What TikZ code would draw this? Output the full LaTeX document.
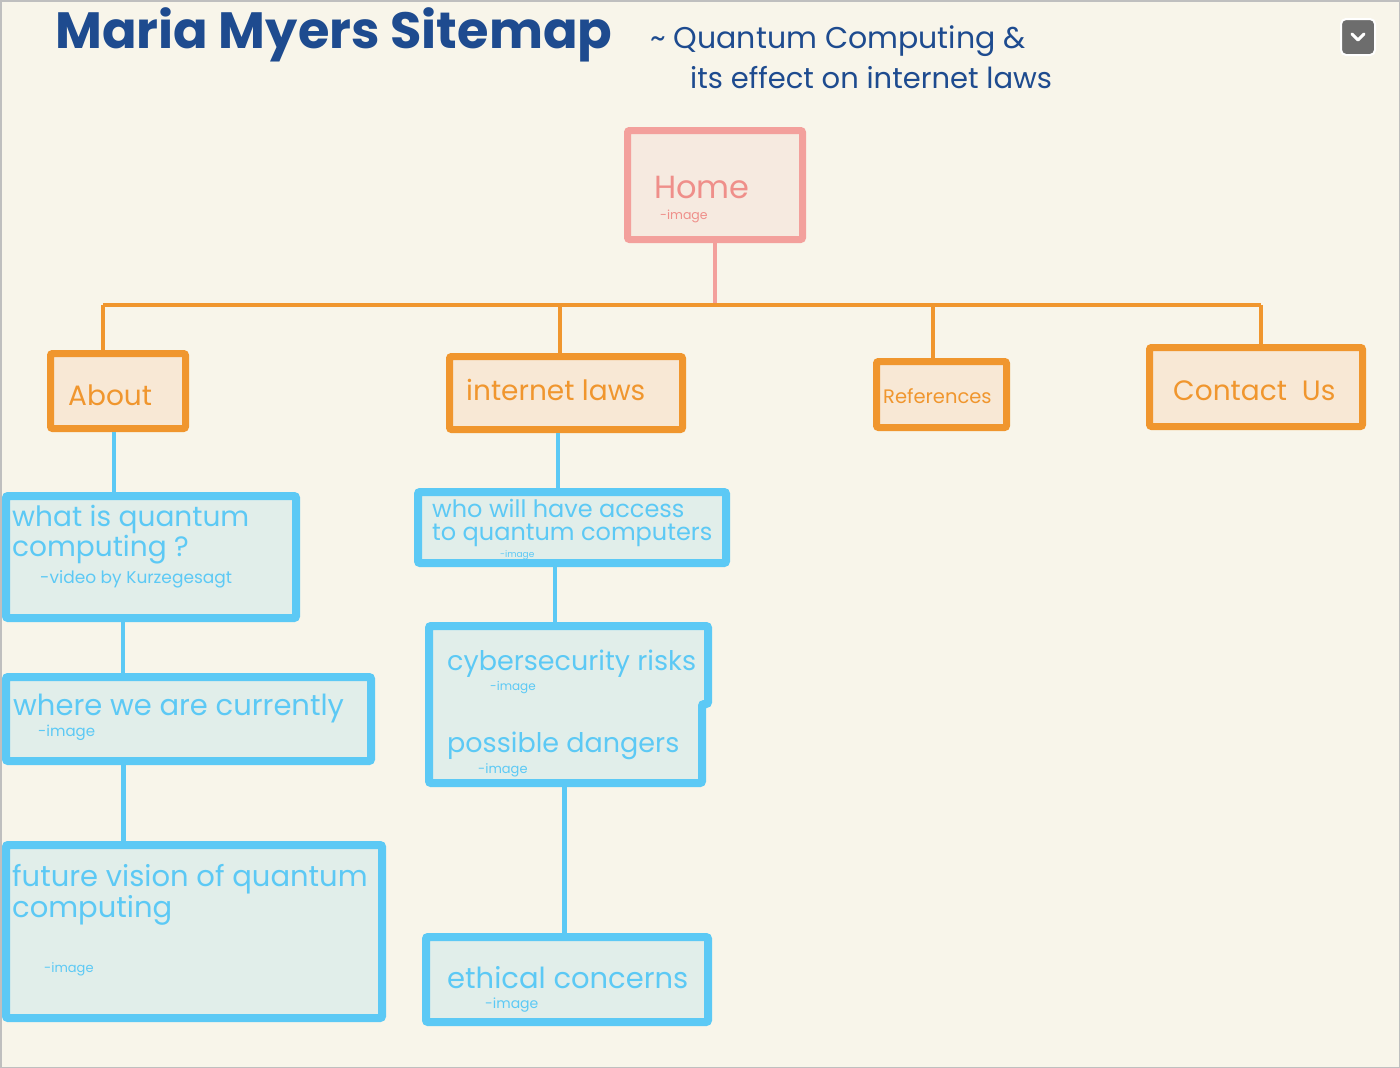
\documentclass[tikz,border=0pt]{standalone}
\usepackage{fontspec}
\setmainfont{Poppins}
\usepackage{tikz}
\tikzset{>=latex}
\definecolor{paper}{HTML}{F8F5EA}
\definecolor{inkblue}{HTML}{1E4B8F}
\definecolor{homepink}{HTML}{F3A09C}
\definecolor{homefill}{HTML}{F6EAE0}
\definecolor{hometext}{HTML}{EF8F8A}
\definecolor{mainorange}{HTML}{F0962E}
\definecolor{orangefill}{HTML}{F8E8D5}
\definecolor{skyblue}{HTML}{5CC9F5}
\definecolor{skyfill}{HTML}{E1EEEA}
\definecolor{btngray}{HTML}{6D6D6D}

\tikzset{
  homebox/.style={draw=homepink, fill=homefill, line width=7pt, rounded corners=2pt, inner sep=0pt},
  sectbox/.style={draw=mainorange, fill=orangefill, line width=7pt, rounded corners=2pt, inner sep=0pt},
  pagebox/.style={draw=skyblue, fill=skyfill, line width=8pt, rounded corners=2pt, inner sep=0pt},
  pline/.style={homepink, line width=4pt},
  oline/.style={mainorange, line width=4pt},
  bline/.style={skyblue, line width=4.5pt},
  txt/.style={anchor=base west, inner sep=0pt, align=left},
  bigtxt/.style={txt, text=skyblue, font=\fontsize{27}{25}\selectfont},
  notetxt/.style={txt, text=skyblue, font=\fontsize{13}{14}\selectfont},
  secttxt/.style={txt, text=mainorange, font=\fontsize{28}{30}\selectfont}
}

\begin{document}
\begin{tikzpicture}[x=1pt, y=-1pt]
\fill[paper] (0,0) rectangle (1400,1068);
\draw[black!25, line width=1.5pt] (0.75,0.75) rectangle (1399.25,1067.25);
\useasboundingbox (0,0) rectangle (1400,1068);

% heading
\node[txt, text=inkblue, font=\fontsize{51}{52}\selectfont\bfseries] (title) at (55,48) {Maria Myers Sitemap};
\node[txt, text=inkblue, font=\fontsize{30}{34}\selectfont] (subtitle) at (650,48) {\~{} Quantum Computing \&};
\node[txt, text=inkblue, font=\fontsize{29}{34}\selectfont] (subtitle2) at (690,88) {its effect on internet laws};

% menu button
\node[draw=white, line width=2pt, fill=btngray, rounded corners=5pt, minimum width=34pt, minimum height=36pt] (menu) at (1358,37) {};
\draw[white, line width=3pt, line cap=round, line join=round] ([shift={(-6,-3)}]menu.center) -- ([shift={(0,3)}]menu.center) -- ([shift={(6,-3)}]menu.center);

% top level
\node[homebox, minimum width=175pt, minimum height=109pt] (home) at (715,185) {};
\node[txt, text=hometext, font=\fontsize{32}{35}\selectfont] (hometxt) at (654,198) {Home};
\node[txt, text=hometext, font=\fontsize{12.5}{13}\selectfont] (homenote) at (660,219) {-image};

\node[sectbox, minimum width=135pt, minimum height=75pt] (about) at (118,391) {};
\node[sectbox, minimum width=233pt, minimum height=73pt] (laws) at (566,393) {};
\node[sectbox, minimum width=130pt, minimum height=66pt] (refs) at (941.5,394.5) {};
\node[sectbox, minimum width=213pt, minimum height=79pt] (contact) at (1256,387) {};
\node[secttxt] (abouttxt) at (68,405) {About};
\node[secttxt] (lawstxt) at (466,400) {internet laws};
\node[secttxt, font=\fontsize{19.5}{21}\selectfont] (refstxt) at (883,403) {References};
\node[secttxt] (contacttxt) at (1173,400) {Contact\ \ Us};

\coordinate (busl) at (103,305);
\coordinate (busr) at (1261,305);
\draw[pline] (home.south) -- (home.south |- busl);
\draw[oline] (busl) -- (busr);
\draw[oline] (busl) -- (busl |- about.north);
\draw[oline] (laws.north -| 560,0) -- (busl -| 560,0);
\draw[oline] (refs.north -| 933,0) -- (busl -| 933,0);
\draw[oline] (busr) -- (busr |- contact.north);

% about column
\node[pagebox, minimum width=290pt, minimum height=122pt] (what) at (151,557) {};
\node[pagebox, minimum width=365pt, minimum height=84pt] (where) at (188.5,719) {};
\node[pagebox, minimum width=376pt, minimum height=173pt] (future) at (194,931.5) {};
\node[bigtxt, font=\fontsize{28}{25}\selectfont] (whattxt) at (12,556) {what is quantum\\computing ?};
\node[notetxt, font=\fontsize{17}{18}\selectfont] (whatnote) at (40,583) {-video by Kurzegesagt};
\node[bigtxt, font=\fontsize{29}{28}\selectfont] (wheretxt) at (13,715) {where we are currently};
\node[notetxt, font=\fontsize{15}{16}\selectfont] (wherenote) at (38,736) {-image};
\node[bigtxt, font=\fontsize{29}{25}\selectfont] (futuretxt) at (12,917) {future vision of quantum\\computing};
\node[notetxt] (futurenote) at (44,972) {-image};

\draw[bline] ([xshift=-4pt]about.south) -- ([xshift=-4pt]about.south |- what.north);
\draw[bline] ([xshift=-28pt]what.south) -- ([xshift=-28pt]what.south |- where.north);
\draw[bline] ([xshift=-65pt]where.south) -- ([xshift=-65pt]where.south |- future.north);

% laws column
\node[pagebox, minimum width=308pt, minimum height=71pt] (access) at (572,527.5) {};
\fill[skyfill] (429,626) -- (708,626) -- (708,704) -- (702,704) -- (702,783) -- (429,783) -- cycle;
\draw[skyblue, line width=8pt, rounded corners=2pt] (429,626) -- (708,626) -- (708,704) -- (702,704) -- (702,783) -- (429,783) -- cycle;
\node[inner sep=0pt, minimum width=287pt, minimum height=165pt] (risks) at (568.5,704.5) {};
\node[pagebox, minimum width=282pt, minimum height=85pt] (ethical) at (567,979.5) {};
\node[bigtxt, font=\fontsize{24}{23}\selectfont] (accesstxt) at (432,540) {who will have access\\to quantum computers};
\node[notetxt, font=\fontsize{9}{10}\selectfont] (accessnote) at (500,557) {-image};
\node[bigtxt] (riskstxt) at (447,670) {cybersecurity risks};
\node[notetxt, font=\fontsize{12}{13}\selectfont] (risksnote) at (490,690) {-image};
\node[bigtxt] (dangertxt) at (447,752) {possible dangers};
\node[notetxt] (dangernote) at (478,773) {-image};
\node[bigtxt, font=\fontsize{29}{30}\selectfont] (ethicaltxt) at (447,988) {ethical concerns};
\node[notetxt, font=\fontsize{14}{15}\selectfont] (ethicalnote) at (485,1008) {-image};

\draw[bline] ([xshift=-8pt]laws.south) -- ([xshift=-8pt]laws.south |- access.north);
\draw[bline] ([xshift=-17pt]access.south) -- ([xshift=-17pt]access.south |- risks.north);
\draw[bline] ([xshift=-4pt]risks.south) -- ([xshift=-4pt]risks.south |- ethical.north);
\end{tikzpicture}
\end{document}
